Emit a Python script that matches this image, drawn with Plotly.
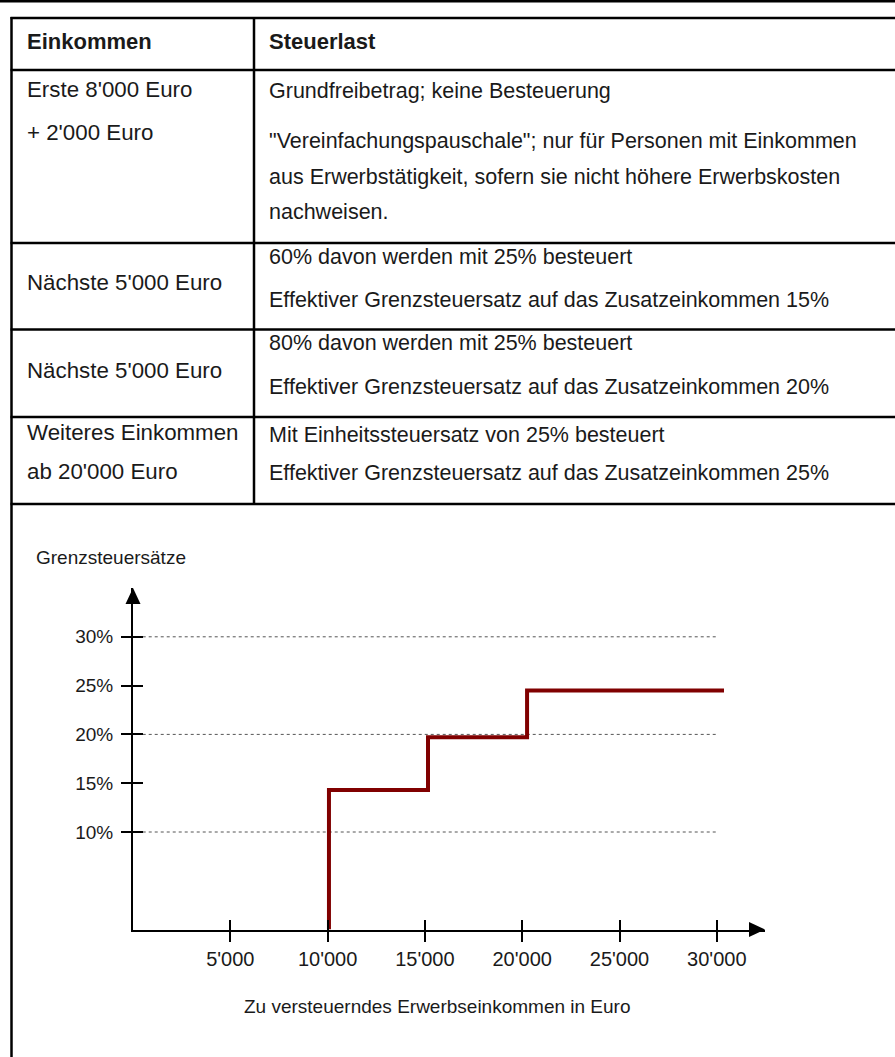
import plotly.graph_objects as go

W, H = 895, 1057

# ---------------- data ----------------
header = ["Einkommen", "Steuerlast"]
income_col = ["Erste 8'000 Euro", "+ 2'000 Euro", "Nächste 5'000 Euro",
              "Nächste 5'000 Euro", "Weiteres Einkommen", "ab 20'000 Euro"]
burden_col = ["Grundfreibetrag; keine Besteuerung",
              "\"Vereinfachungspauschale\"; nur für Personen mit Einkommen",
              "aus Erwerbstätigkeit, sofern sie nicht höhere Erwerbskosten",
              "nachweisen.",
              "60% davon werden mit 25% besteuert",
              "Effektiver Grenzsteuersatz auf das Zusatzeinkommen 15%",
              "80% davon werden mit 25% besteuert",
              "Effektiver Grenzsteuersatz auf das Zusatzeinkommen 20%",
              "Mit Einheitssteuersatz von 25% besteuert",
              "Effektiver Grenzsteuersatz auf das Zusatzeinkommen 25%"]

step_income = [10070, 10070, 15160, 20250, 30370]
step_rate = [0, 14.3, 19.7, 24.5, 24.5]

x_ticks = [5000, 10000, 15000, 20000, 25000, 30000]
x_ticktext = ["5'000", "10'000", "15'000", "20'000", "25'000", "30'000"]
y_ticks = [10, 15, 20, 25, 30]
y_ticktext = ["10%", "15%", "20%", "25%", "30%"]
grid_levels = [10, 20, 30]

y_title = "Grenzsteuersätze"
x_title = "Zu versteuerndes Erwerbseinkommen in Euro"

# ---------------- helpers ----------------
def px(x):
    return x / W

def py(y):
    return 1 - y / H

FONT = "Liberation Sans, Arial, Helvetica, sans-serif"
TXT = "#1a1a1a"

fig = go.Figure()

fig.add_trace(go.Scatter(
    x=step_income, y=step_rate, mode="lines", line_shape="hv",
    line=dict(color="#800000", width=4), showlegend=False, hoverinfo="skip",
    xaxis="x", yaxis="y"))
# helper trace for the overlaid tick axes
fig.add_trace(go.Scatter(x=[], y=[], xaxis="x2", yaxis="y2", showlegend=False,
                         hoverinfo="skip"))

x_dom = [px(133), px(765)]
y_dom = [py(929.6), py(588)]
x_rng = [0, (765 - 133) / 97.3 * 5000]
y_rng = [0, (929.6 - 588) / 9.76]

common_x = dict(domain=x_dom, range=x_rng, tickvals=x_ticks, showgrid=False,
                zeroline=False, ticklen=10, tickwidth=2, tickcolor="black",
                fixedrange=True)
common_y = dict(domain=y_dom, range=y_rng, tickvals=y_ticks, showgrid=False,
                zeroline=False, ticklen=10, tickwidth=2, tickcolor="black",
                fixedrange=True)

fig.update_layout(
    width=W, height=H, margin=dict(l=0, r=0, t=0, b=0),
    paper_bgcolor="white", plot_bgcolor="white",
    xaxis=dict(**common_x, ticks="outside", ticktext=x_ticktext,
               tickfont=dict(family=FONT, size=20, color=TXT),
               showline=True, linewidth=2,
               linecolor="black", anchor="y", ticklabelstandoff=0),
    yaxis=dict(**common_y, ticks="outside", ticktext=y_ticktext,
               tickfont=dict(family=FONT, size=19, color=TXT),
               showline=True, linewidth=2,
               linecolor="black", anchor="x", ticklabelstandoff=4),
    xaxis2=dict(**common_x, ticks="inside", showticklabels=False,
                overlaying="x", anchor="y2", showline=False),
    yaxis2=dict(**common_y, ticks="inside", showticklabels=False,
                overlaying="y", anchor="x2", showline=False),
)

shapes = []
# grid lines
for g in grid_levels:
    shapes.append(dict(type="line", xref="x", yref="y", x0=500, x1=30000,
                       y0=g, y1=g, line=dict(color="#555555", width=1, dash="dot"),
                       layer="below"))

# arrows
def tri(pts):
    p = "M " + " L ".join(f"{px(a)},{py(b)}" for a, b in pts) + " Z"
    return dict(type="path", xref="paper", yref="paper", path=p,
                fillcolor="black", line=dict(color="black", width=0))

shapes.append(tri([(133, 588), (125.5, 604), (140.5, 604)]))
shapes.append(tri([(765, 929.5), (749, 922), (749, 937)]))

# table lines
def hline(y, x0, x1, w=2.5):
    return dict(type="line", xref="paper", yref="paper", x0=px(x0), x1=px(x1),
                y0=py(y), y1=py(y), line=dict(color="black", width=w))

def vline(x, y0, y1, w=2.5):
    return dict(type="line", xref="paper", yref="paper", x0=px(x), x1=px(x),
                y0=py(y0), y1=py(y1), line=dict(color="black", width=w))

shapes.append(hline(1, 0, W, 3))
for yy in [18, 70, 243, 329.5, 417, 504]:
    shapes.append(hline(yy, 10.5, W))
shapes.append(vline(11.5, 17, H))
shapes.append(vline(254, 17, 504))

fig.update_layout(shapes=shapes)

ann = []
def text(t, x, y, size=21, bold=False, anchor="left"):
    ann.append(dict(text=f"<b>{t}</b>" if bold else t, x=px(x), y=py(y),
                    xref="paper", yref="paper", xanchor=anchor, yanchor="middle",
                    showarrow=False,
                    font=dict(family=FONT, size=size, color=TXT)))

text(header[0], 25, 41, size=22, bold=True)
text(header[1], 267, 41, size=22, bold=True)

left_y = [89, 132, 282.5, 370, 432.5, 471]
for t, yy in zip(income_col, left_y):
    text(t, 25, yy, size=22.3)

right_y = [91, 141, 177, 212, 257, 300, 343, 387, 435, 473]
for t, yy in zip(burden_col, right_y):
    text(t, 267, yy, size=21.5)

text(y_title, 34, 557.5, size=19)
text(x_title, 437, 1006, size=19, anchor="center")

fig.update_layout(annotations=ann)

fig.write_html("out.html", post_script="document.body.style.margin='0';",
               config={"displayModeBar": False})
